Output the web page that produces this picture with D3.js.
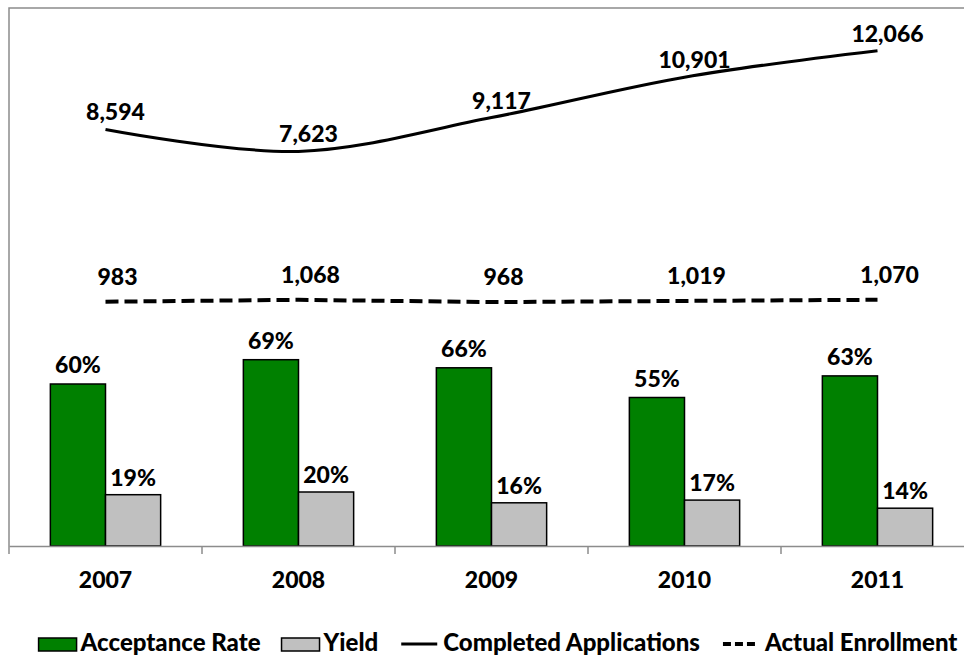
<!DOCTYPE html>
<html>
<head>
<meta charset="utf-8">
<script src="https://cdn.jsdelivr.net/npm/d3@7"></script>
<style>
  body { margin: 0; background: #fff; }
  text { font-family: Lato, "Open Sans", sans-serif; font-weight: 900; fill: #000; }
</style>
</head>
<body>
<svg id="chart" width="964" height="658"></svg>
<script>
// the data
var years = ["2007", "2008", "2009", "2010", "2011"];
var acceptanceRate = [0.60, 0.69, 0.66, 0.55, 0.63];
var yieldRate = [0.19, 0.20, 0.16, 0.17, 0.14];
var completedApps = [8594, 7623, 9117, 10901, 12066];
var enrollment = [983, 1068, 968, 1019, 1070];
var legendNames = ["Acceptance Rate", "Yield", "Completed Applications", "Actual Enrollment"];

var svg = d3.select("#chart"),
    margin = {top: 8, left: 9, bottom: 546, right: 974};

// x scale for the years, and a small one for the two bars inside a year
var x = d3.scaleBand().domain(years).range([margin.left, margin.right]).paddingInner(0).paddingOuter(0);
var x1 = d3.scaleBand().domain(["acc", "yield"]).range([0, x.bandwidth()]).paddingInner(0).paddingOuter(0.75);

// bars use percentages, lines use counts (own scale)
var yBar = d3.scaleLinear().domain([0, 1]).range([margin.bottom, 276]);
var yLine = d3.scaleLinear().domain([0, 14000]).range([324, 7]);

// plot area frame
svg.append("path")
    .attr("d", "M" + margin.right + "," + margin.top + "H" + margin.left + "V" + margin.bottom)
    .attr("fill", "none")
    .attr("stroke", "#8c8c8c")
    .attr("stroke-width", 1.5);

// bars
var rows = years.map(function(y, i) {
  return {year: y, acc: acceptanceRate[i], yield: yieldRate[i], apps: completedApps[i], enr: enrollment[i]};
});

var groups = svg.selectAll(".year")
  .data(rows)
  .enter().append("g")
    .attr("class", "year")
    .attr("transform", function(d) { return "translate(" + x(d.year) + ",0)"; });

groups.append("rect")
    .attr("x", x1("acc"))
    .attr("y", function(d) { return yBar(d.acc); })
    .attr("width", x1.bandwidth())
    .attr("height", function(d) { return yBar(0) - yBar(d.acc); })
    .attr("fill", "#008000")
    .attr("stroke", "#000")
    .attr("stroke-width", 1.5);

groups.append("rect")
    .attr("x", x1("yield"))
    .attr("y", function(d) { return yBar(d.yield); })
    .attr("width", x1.bandwidth())
    .attr("height", function(d) { return yBar(0) - yBar(d.yield); })
    .attr("fill", "#c0c0c0")
    .attr("stroke", "#000")
    .attr("stroke-width", 1.5);

var pct = d3.format(".0%");

groups.append("text")
    .attr("x", x1("acc") + x1.bandwidth() / 2)
    .attr("y", function(d) { return yBar(d.acc) - 11; })
    .attr("text-anchor", "middle")
    .style("font-size", "23px")
    .text(function(d) { return pct(d.acc); });

groups.append("text")
    .attr("x", x1("yield") + x1.bandwidth() / 2)
    .attr("y", function(d) { return yBar(d.yield) - 9; })
    .attr("text-anchor", "middle")
    .style("font-size", "23px")
    .text(function(d) { return pct(d.yield); });

// x axis with ticks between the years
var xAxis = d3.axisBottom(x).tickSize(0).tickPadding(26);
var axisG = svg.append("g")
    .attr("transform", "translate(0," + margin.bottom + ")")
    .call(xAxis);
axisG.select(".domain").attr("stroke", "#8c8c8c").attr("stroke-width", 1.5);
axisG.selectAll(".tick text")
    .style("font-family", "Lato, 'Open Sans', sans-serif")
    .style("font-weight", "900")
    .style("font-size", "23px")
    .attr("fill", "#000");

svg.append("g").selectAll("line")
  .data(years.concat(["end"]))
  .enter().append("line")
    .attr("x1", function(d, i) { return margin.left + i * x.step(); })
    .attr("x2", function(d, i) { return margin.left + i * x.step(); })
    .attr("y1", margin.bottom)
    .attr("y2", margin.bottom + 8)
    .attr("stroke", "#8c8c8c")
    .attr("stroke-width", 1.5);

// lines
var mid = function(d) { return x(d.year) + x.bandwidth() / 2; };

var appsLine = d3.line()
    .x(mid)
    .y(function(d) { return yLine(d.apps); })
    .curve(d3.curveCatmullRom.alpha(0));

var enrLine = d3.line()
    .x(mid)
    .y(function(d) { return yLine(d.enr); });

svg.append("path")
    .datum(rows)
    .attr("d", appsLine)
    .attr("fill", "none")
    .attr("stroke", "#000")
    .attr("stroke-width", 3);

svg.append("path")
    .datum(rows)
    .attr("d", enrLine)
    .attr("fill", "none")
    .attr("stroke", "#000")
    .attr("stroke-width", 4)
    .attr("stroke-dasharray", "13,6");

var num = d3.format(",");

svg.selectAll(".appsLabel")
  .data(rows)
  .enter().append("text")
    .attr("class", "appsLabel")
    .attr("x", function(d) { return mid(d) + 10; })
    .attr("y", function(d) { return yLine(d.apps) - 9; })
    .attr("text-anchor", "middle")
    .style("font-size", "23px")
    .text(function(d) { return num(d.apps); });

svg.selectAll(".enrLabel")
  .data(rows)
  .enter().append("text")
    .attr("class", "enrLabel")
    .attr("x", function(d) { return mid(d) + 12; })
    .attr("y", function(d) { return yLine(d.enr) - 17; })
    .attr("text-anchor", "middle")
    .style("font-size", "23px")
    .text(function(d) { return num(d.enr); });

// legend, laid out one after the other and centred
var legend = svg.append("g");
var cursor = 0;
legendNames.forEach(function(name, i) {
  var item = legend.append("g").attr("transform", "translate(" + cursor + ",0)");
  var keyW = i < 2 ? 38 : 40;
  if (i === 0 || i === 1) {
    item.append("rect")
        .attr("x", 0).attr("y", -13)
        .attr("width", keyW).attr("height", 13)
        .attr("fill", i === 0 ? "#008000" : "#c0c0c0")
        .attr("stroke", "#000").attr("stroke-width", 1.5);
  } else {
    item.append("line")
        .attr("x1", 2).attr("x2", keyW - 2)
        .attr("y1", -7).attr("y2", -7)
        .attr("stroke", "#000")
        .attr("stroke-width", i === 2 ? 3 : 4)
        .attr("stroke-dasharray", i === 2 ? null : "8,4");
  }
  var t = item.append("text")
      .attr("x", keyW + 4)
      .attr("y", 0)
      .style("font-size", "24px")
      .text(name);
  cursor += keyW + 4 + t.node().getComputedTextLength() + 21;
});
var total = cursor - 21;
legend.attr("transform", "translate(" + (498 - total / 2) + ",651)");
</script>
</body>
</html>
